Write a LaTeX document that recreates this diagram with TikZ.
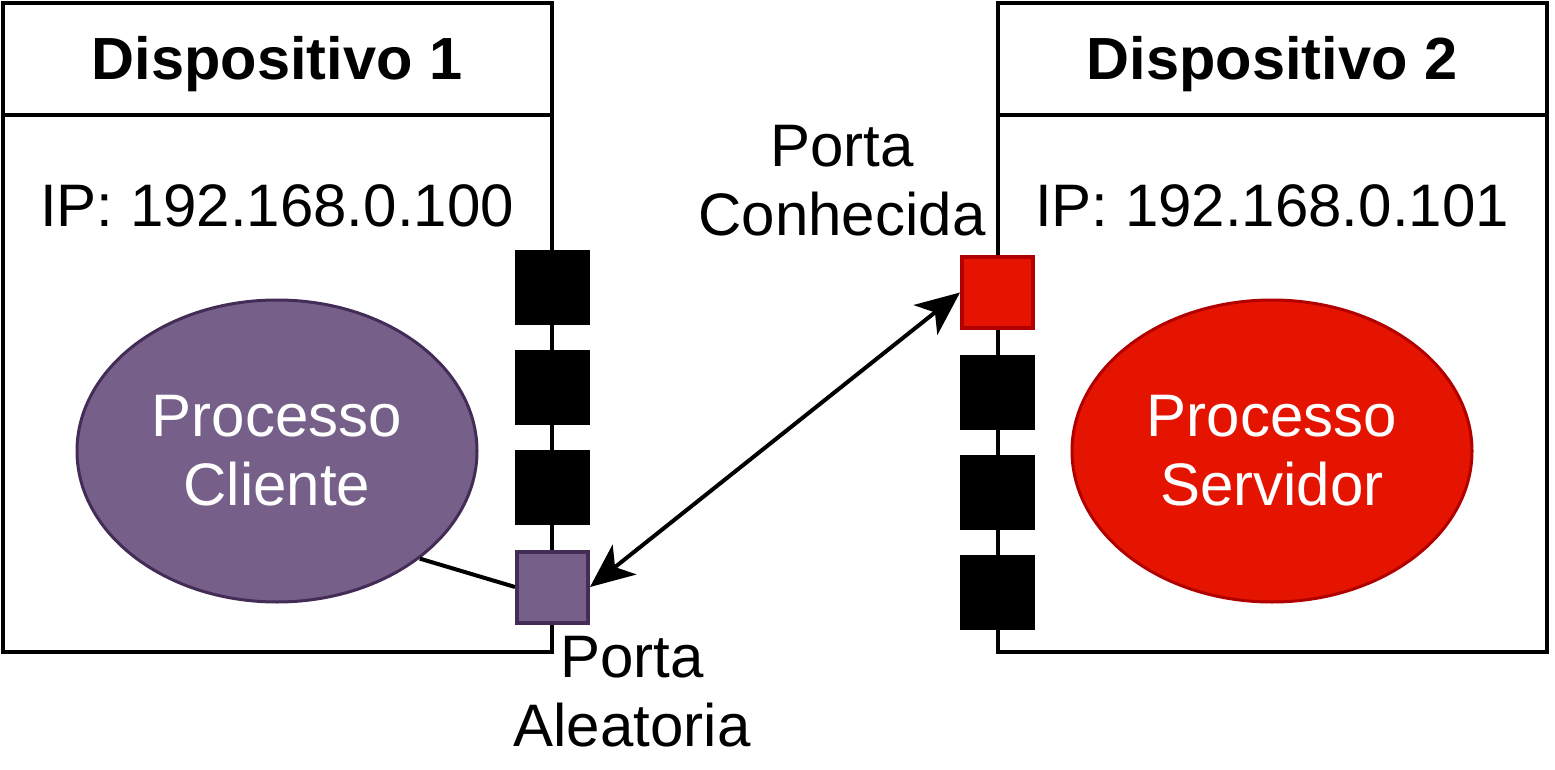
\documentclass[tikz,border=0pt]{standalone}
\usepackage{fontspec}
\setmainfont{Liberation Sans}
\usetikzlibrary{arrows.meta,shapes.geometric}
\definecolor{purp}{HTML}{76608A}
\definecolor{purpd}{HTML}{432D57}
\definecolor{redf}{HTML}{E51400}
\definecolor{redd}{HTML}{B20000}
\begin{document}
\begin{tikzpicture}[x=1pt,y=-1pt,
  every node/.style={font=\fontsize{60}{69}\selectfont},
  device/.style={draw,line width=4pt,minimum width=549pt,minimum height=649pt,inner sep=0pt},
  title/.style={font=\fontsize{59.5}{69}\selectfont\bfseries},
  lbl/.style={align=center,inner sep=0pt},
  blackport/.style={fill=black,minimum size=75pt,inner sep=0pt},
  purpport/.style={fill=purp,draw=purpd,line width=4pt,minimum size=71pt,inner sep=0pt},
  redport/.style={fill=redf,draw=redd,line width=4pt,minimum size=71pt,inner sep=0pt},
  proc/.style={ellipse,line width=3pt,minimum width=400pt,minimum height=302pt,inner sep=0pt,text=white,align=center},
  conn/.style={line width=4pt},
  arr/.style={line width=4pt,{Stealth[length=44pt,width=38pt,inset=12pt]}-{Stealth[length=44pt,width=38pt,inset=12pt]}}
]
\useasboundingbox (0,0) rectangle (1555,770);
% devices
\node[device] (dev1) at (277.5,327.5) {};
\node[device] (dev2) at (1272.5,327.5) {};
\draw[line width=4pt] ([yshift=-114pt]dev1.north west) -- ([yshift=-114pt]dev1.north east);
\draw[line width=4pt] ([yshift=-114pt]dev2.north west) -- ([yshift=-114pt]dev2.north east);
\node[title] (t1) at (277,64) {Dispositivo 1};
\node[title] (t2) at (1272,64) {Dispositivo 2};
\node[lbl] (ip1) at (277,206) {IP: 192.168.0.100};
\node[lbl] (ip2) at (1272,206) {IP: 192.168.0.101};
% processes
\node[proc,fill=purp,draw=purpd] (cli) at (277,451) {Processo\\Cliente};
\node[proc,fill=redf,draw=redd] (srv) at (1272,451) {Processo\\Servidor};
% ports device 1
\node[blackport] (p1a) at (552.5,287.5) {};
\node[blackport] (p1b) at (552.5,387.5) {};
\node[blackport] (p1c) at (552.5,487.5) {};
\node[purpport] (pp) at (552.5,587) {};
% ports device 2
\node[redport] (rp) at (997.5,292.5) {};
\node[blackport] (p2b) at (997.5,392.5) {};
\node[blackport] (p2c) at (997.5,492.5) {};
\node[blackport] (p2d) at (997.5,592.5) {};
% labels
\node[lbl] (lk) at (842,181) {Porta\\Conhecida};
\node[lbl] (la) at (632,692) {Porta\\Aleatoria};
% connectors
\draw[conn] (cli.-37) -- (pp.west);
\draw[arr] (pp.east) -- (rp.west);
\end{tikzpicture}
\end{document}
